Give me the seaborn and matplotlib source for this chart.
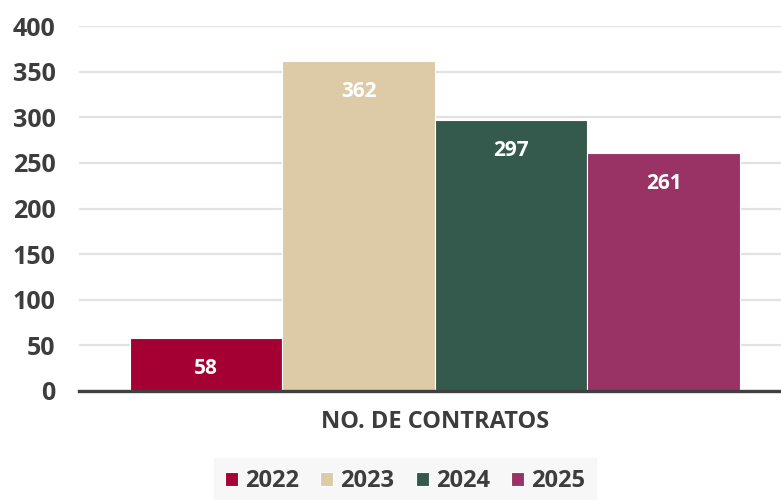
import matplotlib
matplotlib.use("Agg")
import matplotlib.pyplot as plt
import seaborn as sns
import pandas as pd

categories = ["NO. DE CONTRATOS"]
years = ["2022", "2023", "2024", "2025"]
values = [58, 362, 297, 261]
colors = ["#a50034", "#dccba6", "#345a4e", "#993265"]
yticks = [0, 50, 100, 150, 200, 250, 300, 350, 400]

df = pd.DataFrame({"cat": categories * len(years), "year": years, "val": values})

sns.set_theme(style="white")
plt.rcParams["font.family"] = ["Open Sans", "DejaVu Sans"]
plt.rcParams["font.weight"] = "bold"

txt = "#3d3d3d"
fig = plt.figure(figsize=(7.81, 5.0), dpi=100)
ax = fig.add_axes([79 / 781, 1 - 391 / 500, 702 / 781, 365 / 500])

sns.barplot(data=df, x="cat", y="val", hue="year", palette=colors, width=0.8,
            edgecolor="white", linewidth=0.8, ax=ax, legend=True, saturation=1)

ax.set_ylim(0, 400)
ax.set_xlim(-0.4668, 0.4539)
ax.set_yticks(yticks)
ax.set_yticklabels([str(t) for t in yticks], fontsize=18, fontweight="bold", color=txt)
ax.tick_params(axis="y", length=0, pad=17)
ax.tick_params(axis="x", length=0, pad=14)
ax.set_xticks([0])
ax.set_xticklabels(categories, fontsize=17, fontweight="bold", color=txt)
ax.set_xlabel("")
ax.set_ylabel("")
ax.yaxis.grid(True, color="#e2e2e2", linewidth=1.6)
ax.set_axisbelow(True)
for s in ["top", "right", "left"]:
    ax.spines[s].set_visible(False)
ax.spines["bottom"].set_color("#404040")
ax.spines["bottom"].set_linewidth(2.4)
ax.spines["bottom"].set_zorder(5)

for cont in ax.containers:
    for bar in cont:
        h = bar.get_height()
        ax.annotate(f"{int(round(h))}", (bar.get_x() + bar.get_width() / 2, h),
                    xytext=(0, -22), textcoords="offset points", ha="center", va="center",
                    color="white", fontsize=15, fontweight="bold")

handles, labels = ax.get_legend_handles_labels()
ax.get_legend().remove()
leg = fig.legend(handles, labels, loc="center", bbox_to_anchor=(405 / 781, 1 - 481 / 500),
                 ncol=4, frameon=True, fancybox=False, facecolor="#f6f6f6", edgecolor="#f6f6f6",
                 fontsize=17, handlelength=0.55, handleheight=0.55, handletextpad=0.3,
                 columnspacing=0.9, borderpad=0.45)
for t in leg.get_texts():
    t.set_color(txt)
    t.set_fontweight("bold")

fig.savefig("out.png", dpi=100)
